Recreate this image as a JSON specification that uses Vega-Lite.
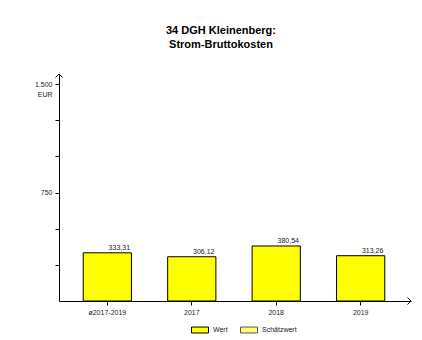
{
  "$schema": "https://vega.github.io/schema/vega-lite/v6.json",
  "width": 352,
  "height": 227,
  "autosize": {"type": "none"},
  "padding": {"left": 59, "top": 74, "right": 11, "bottom": 39},
  "background": "white",
  "config": {
    "locale": {"number": {"decimal": ",", "thousands": ".", "grouping": [3], "currency": ["", " €"]}},
    "font": "Liberation Sans",
    "view": {"stroke": null}
  },
  "title": {
    "text": ["34 DGH Kleinenberg:", "Strom-Bruttokosten"],
    "font": "Liberation Sans",
    "fontSize": 11,
    "fontWeight": "bold",
    "color": "#000",
    "anchor": "middle",
    "frame": "group",
    "dx": -14,
    "dy": 4,
    "offset": 26,
    "lineHeight": 14
  },
  "data": {
    "values": [
      {"period": "ø2017-2019", "value": 333.31, "type": "Wert"},
      {"period": "2017", "value": 306.12, "type": "Wert"},
      {"period": "2018", "value": 380.54, "type": "Wert"},
      {"period": "2019", "value": 313.26, "type": "Wert"}
    ]
  },
  "encoding": {
    "x": {
      "field": "period",
      "type": "nominal",
      "sort": null,
      "scale": {"paddingInner": 0.429, "paddingOuter": 0.2987, "align": 0.48},
      "axis": {
        "title": null,
        "labelAngle": 0,
        "labelFontSize": 7,
        "labelColor": "#222",
        "tickColor": "#000",
        "domainColor": "#000",
        "tickSize": 4,
        "labelPadding": 3
      }
    },
    "y": {
      "field": "value",
      "type": "quantitative",
      "scale": {"domain": [0, 1570], "nice": false},
      "axis": {
        "title": null,
        "grid": false,
        "values": [250, 500, 750, 1000, 1250, 1500],
        "format": ",d",
        "labelExpr": "datum.value == 1500 ? [datum.label, 'EUR'] : (datum.value == 750 ? datum.label : '')",
        "labelOverlap": false,
        "labelBaseline": {"condition": {"test": "datum.value == 1500", "value": "top"}, "value": "middle"},
        "labelOffset": {"condition": {"test": "datum.value == 1500", "value": -4}, "value": 0},
        "labelLineHeight": 10,
        "labelFontSize": 7,
        "labelColor": "#222",
        "tickColor": "#000",
        "domainColor": "#000",
        "tickSize": 4,
        "labelPadding": 3
      }
    }
  },
  "layer": [
    {
      "mark": {"type": "bar", "strokeWidth": 1},
      "encoding": {
        "fill": {
          "field": "type",
          "type": "nominal",
          "scale": {"domain": ["Wert", "Schätzwert"], "range": ["#ffff00", "#ffff66"]},
          "legend": {
            "orient": "none",
            "legendX": 132,
            "legendY": 247,
            "direction": "horizontal",
            "title": null,
            "symbolType": "M -1 -0.35 L 1 -0.35 L 1 0.35 L -1 0.35 Z",
            "symbolSize": 289,
            "symbolStrokeWidth": 1,
            "labelFontSize": 7,
            "labelColor": "#222",
            "columnPadding": 10,
            "labelOffset": 4
          }
        },
        "stroke": {
          "field": "type",
          "type": "nominal",
          "scale": {"domain": ["Wert", "Schätzwert"], "range": ["#000000", "#555555"]},
          "legend": {
            "orient": "none",
            "legendX": 132,
            "legendY": 247,
            "direction": "horizontal",
            "title": null,
            "symbolType": "M -1 -0.35 L 1 -0.35 L 1 0.35 L -1 0.35 Z",
            "symbolSize": 289,
            "symbolStrokeWidth": 1,
            "labelFontSize": 7,
            "labelColor": "#222",
            "columnPadding": 10,
            "labelOffset": 4
          }
        }
      }
    },
    {
      "mark": {"type": "text", "dx": 12, "dy": -2, "baseline": "bottom", "fontSize": 7, "color": "#222"},
      "encoding": {
        "text": {"field": "value", "type": "quantitative", "format": ".2f"}
      }
    },
    {
      "data": {"values": [{"k": "yarrow"}]},
      "mark": {"type": "point", "shape": "M -1 1 L 0 0 L 1 1", "filled": false, "color": "#000", "strokeWidth": 1, "size": 49, "opacity": 1},
      "encoding": {"x": {"value": 0}, "y": {"value": 0}}
    },
    {
      "data": {"values": [{"k": "xarrow"}]},
      "mark": {"type": "point", "shape": "M -1 -1 L 0 0 L -1 1", "filled": false, "color": "#000", "strokeWidth": 1, "size": 49, "opacity": 1},
      "encoding": {"x": {"value": "width"}, "y": {"value": "height"}}
    }
  ]
}
